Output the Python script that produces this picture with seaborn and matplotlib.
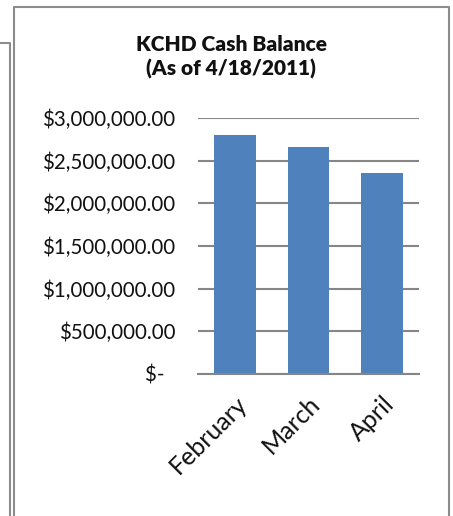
import pandas as pd
import matplotlib.pyplot as plt
import seaborn as sns
from matplotlib.lines import Line2D

# --- DATA ---
months = ['February', 'March', 'April']
balances = [2800000, 2660000, 2355000]
ytick_vals = [0, 500000, 1000000, 1500000, 2000000, 2500000, 3000000]
ytick_labels = ['$-  ', '$500,000.00', '$1,000,000.00', '$1,500,000.00',
                '$2,000,000.00', '$2,500,000.00', '$3,000,000.00']
title = 'KCHD Cash Balance\n(As of 4/18/2011)'

# Colors
BAR_COLOR = '#4F81BD'
GRID_COLOR = '#868686'
FRAME_COLOR = '#8c8c8c'

W, H = 453, 516

sns.set_style('white')
plt.rcParams['font.family'] = ['Lato', 'DejaVu Sans']

fig = plt.figure(figsize=(W / 100, H / 100), dpi=100)
ax = fig.add_axes([198 / W, 142 / H, 221 / W, 256 / H])

df = pd.DataFrame({'Month': months, 'Balance': balances})
sns.barplot(data=df, x='Month', y='Balance', color=BAR_COLOR, saturation=1,
            width=0.57, linewidth=0, ax=ax)

ax.set_ylim(0, 3000000)
ax.set_yticks(ytick_vals)
ax.set_yticklabels(ytick_labels, fontsize=14.8, color='#111111')
ax.tick_params(axis='y', length=0, pad=16.5)
ax.tick_params(axis='x', length=0, pad=13)
ax.yaxis.grid(True, color=GRID_COLOR, linewidth=1.5)
ax.set_axisbelow(True)
for s in ['left', 'right', 'top']:
    ax.spines[s].set_visible(False)
ax.spines['bottom'].set_color(GRID_COLOR)
ax.spines['bottom'].set_linewidth(1.5)
ax.set_xlabel('')
ax.set_ylabel('')
plt.setp(ax.get_xticklabels(), rotation=45, ha='right', rotation_mode='anchor',
         fontsize=18, color='#111111')

fig.text(231 / W, 1 - 57 / H, title, ha='center', va='center',
         fontweight='heavy', fontsize=15, linespacing=1.3, color='#111111')

# chart frame + neighbouring frame on the left
def fline(xs, ys):
    fig.add_artist(Line2D([x / W for x in xs], [1 - y / H for y in ys],
                          transform=fig.transFigure, color=FRAME_COLOR, lw=1.5))

fline([14, 14, 449, 449], [H, 7, 7, H])
fline([0, 10, 10], [43, 43, H])

plt.savefig('out.png', dpi=100)
